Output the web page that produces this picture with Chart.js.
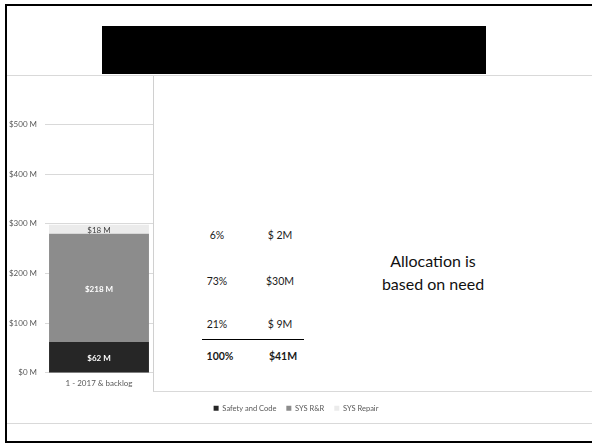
<!DOCTYPE html>
<html>
<head>
<meta charset="utf-8">
<script src="https://cdn.jsdelivr.net/npm/chart.js@4"></script>
<style>
  html, body { margin: 0; padding: 0; background: #fff; }
  body { width: 592px; height: 445px; position: relative; overflow: hidden; font-family: "Lato", sans-serif; }
  #marco { position: absolute; left: 5px; top: 4px; width: 600px; height: 435px; border: 2px solid #000; box-sizing: content-box; }
  #titulo { position: absolute; left: 102px; top: 26px; width: 384px; height: 48px; background: #000; }
  #lineaTop { position: absolute; left: 7px; top: 75px; width: 585px; height: 1px; background: #d9d9d9; z-index: 3; }
  #lineaBottom { position: absolute; left: 7px; top: 423px; width: 585px; height: 1px; background: #d9d9d9; }
  #cajaGrafica { position: absolute; left: 7px; top: 62px; width: 585px; height: 367px; }
  #tapa { position: absolute; left: 153px; top: 75px; width: 450px; height: 316px; background: #fff;
          border-left: 1px solid #d0d0d0; border-bottom: 1px solid #d9d9d9; z-index: 2; }
  .celda { position: absolute; width: 60px; text-align: center; font-size: 10.5px; color: #1a1a1a; transform: translate(-50%, -50%); }
  .total { font-weight: bold; }
  #raya { position: absolute; left: 48px; top: 264px; width: 102px; height: 1px; background: #000; }
  #nota { position: absolute; left: 279px; top: 174px; width: 0; text-align: center; font-size: 16px; line-height: 23px; color: #111; }
  #nota span { display: block; width: 200px; margin-left: -100px; }
</style>
</head>
<body>
<div id="marco"></div>
<div id="titulo"></div>
<div id="cajaGrafica"><canvas id="MiGraficaBacklog"></canvas></div>
<div id="lineaTop"></div>
<div id="lineaBottom"></div>
<div id="tapa"></div>

<script>
// montos en millones por tipo de trabajo
var categorias = ["1 - 2017 & backlog", "", "", "", ""];
var safetyCode = [62, null, null, null, null];
var sysRR = [218, null, null, null, null];
var sysRepair = [18, null, null, null, null];
var nombresSeries = ["Safety and Code", "SYS R&R", "SYS Repair"];

// tabla de asignacion (porcentaje / monto)
var porcentajes = ["6%", "73%", "21%"];
var montos = ["$ 2M", "$30M", "$ 9M"];
var totales = ["100%", "$41M"];
var nota = ["Allocation is", "based on need"];

var coloresSeries = ['#262626', '#8c8c8c', '#ebebeb'];
var coloresTexto = ['#ffffff', '#ffffff', '#404040'];
var grisTexto = '#595959';

function llenarTabla(){
  var tapa = document.getElementById("tapa");
  var filasY = [160, 206, 249];
  for (var i = 0; i < porcentajes.length; i++) {
    tapa.insertAdjacentHTML("beforeend",
      "<div class='celda' style='left:63px;top:" + filasY[i] + "px'>" + porcentajes[i] + "</div>" +
      "<div class='celda' style='left:126px;top:" + filasY[i] + "px'>" + montos[i] + "</div>");
  }
  tapa.insertAdjacentHTML("beforeend", "<div id='raya'></div>");
  tapa.insertAdjacentHTML("beforeend",
    "<div class='celda total' style='left:66px;top:281px'>" + totales[0] + "</div>" +
    "<div class='celda total' style='left:129px;top:281px'>" + totales[1] + "</div>");
  var html = "<div id='nota'>";
  for (var j = 0; j < nota.length; j++) html += "<span>" + nota[j] + "</span>";
  tapa.insertAdjacentHTML("beforeend", html + "</div>");
}

// escribe el valor en el centro de cada segmento
var etiquetasValor = {
  id: 'etiquetasValor',
  afterDatasetsDraw: function(chart) {
    var ctx = chart.ctx;
    chart.data.datasets.forEach(function(ds, i) {
      chart.getDatasetMeta(i).data.forEach(function(bar, j) {
        var v = ds.data[j];
        if (v == null) return;
        var p = bar.getProps(['x', 'y', 'base'], true);
        ctx.save();
        ctx.fillStyle = coloresTexto[i];
        ctx.font = (i < 2 ? 'bold ' : '') + '8px Lato';
        ctx.textAlign = 'center';
        ctx.textBaseline = 'middle';
        ctx.fillText('$' + v + ' M', p.x, (p.y + p.base) / 2 + 1);
        ctx.restore();
      });
    });
  }
};

function cargarGrafica(){
  var datos = [safetyCode, sysRR, sysRepair];
  var datasets = [];
  for (var i = 0; i < datos.length; i++) {
    datasets.push({
      label: nombresSeries[i],
      data: datos[i],
      backgroundColor: coloresSeries[i],
      borderWidth: 0,
      categoryPercentage: 1,
      barPercentage: 0.925
    });
  }

  var miCanvas = document.getElementById("MiGraficaBacklog").getContext("2d");
  var grafica = new Chart(miCanvas, {
    type: "bar",
    data: { labels: categorias, datasets: datasets },
    plugins: [etiquetasValor],
    options: {
      responsive: true,
      maintainAspectRatio: false,
      animation: false,
      layout: { padding: { top: 0, right: 7, bottom: 7, left: 0 } },
      plugins: {
        tooltip: { enabled: false },
        legend: {
          position: 'bottom',
          labels: { boxWidth: 5, boxHeight: 5, padding: 10, color: grisTexto, font: { family: 'Lato', size: 7.5 } }
        }
      },
      scales: {
        x: {
          stacked: true,
          grid: { display: false, drawTicks: false },
          border: { display: false },
          ticks: { color: grisTexto, font: { family: 'Lato', size: 8 }, padding: 6, maxRotation: 0 }
        },
        y: {
          stacked: true,
          min: 0,
          max: 600,
          afterFit: function(scale) { scale.width = 38; },
          grid: {
            drawTicks: false,
            color: function(c) { return c.tick && c.tick.value === 600 ? 'rgba(0,0,0,0)' : '#d9d9d9'; }
          },
          border: { display: false },
          ticks: {
            stepSize: 100,
            padding: 8,
            color: grisTexto,
            font: { family: 'Lato', size: 8 },
            callback: function(v) { return v === 600 ? '' : '$' + v + ' M'; }
          }
        }
      }
    }
  });
}

llenarTabla();
cargarGrafica();
</script>
</body>
</html>
